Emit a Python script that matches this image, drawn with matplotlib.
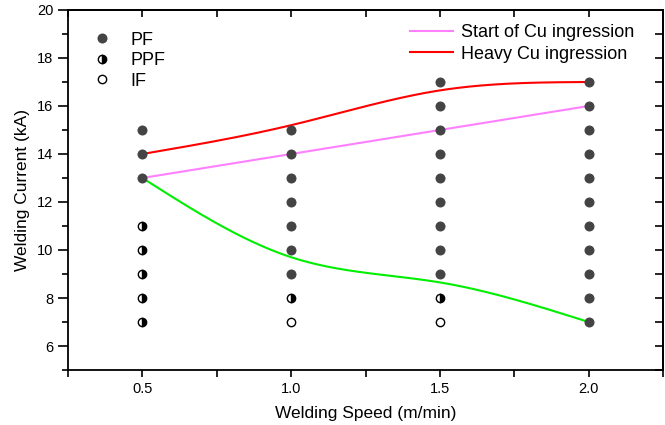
import numpy as np
import matplotlib
matplotlib.use("Agg")
import matplotlib.pyplot as plt
from matplotlib.ticker import MultipleLocator

plt.rcParams['font.family'] = ['Liberation Sans', 'DejaVu Sans']

# Weld outcome map: welding speed (m/min) vs welding current (kA)
pf_speed = [0.5, 0.5, 0.5,
            1.0, 1.0, 1.0, 1.0, 1.0, 1.0, 1.0,
            1.5, 1.5, 1.5, 1.5, 1.5, 1.5, 1.5, 1.5, 1.5,
            2.0, 2.0, 2.0, 2.0, 2.0, 2.0, 2.0, 2.0, 2.0, 2.0, 2.0]
pf_current = [15, 14, 13,
              15, 14, 13, 12, 11, 10, 9,
              17, 16, 15, 14, 13, 12, 11, 10, 9,
              17, 16, 15, 14, 13, 12, 11, 10, 9, 8, 7]
ppf_speed = [0.5, 0.5, 0.5, 0.5, 0.5, 1.0, 1.5]
ppf_current = [11, 10, 9, 8, 7, 8, 8]
if_speed = [1.0, 1.5]
if_current = [7, 7]

# Boundary curves
start_speed = [0.5, 1.0, 1.5, 2.0]
start_current = [13, 14, 15, 16]
heavy_speed = [0.5, 1.0, 1.5, 2.0]
heavy_current = [14, 15.2, 16.65, 17]
lower_speed = [0.5, 1.0, 1.5, 2.0]
lower_current = [13, 9.7, 8.65, 7]


def natural_spline(xs, ys, n=200):
    xs = np.asarray(xs, float)
    ys = np.asarray(ys, float)
    k = len(xs)
    h = np.diff(xs)
    A = np.zeros((k, k))
    b = np.zeros(k)
    A[0, 0] = A[-1, -1] = 1
    for i in range(1, k - 1):
        A[i, i - 1] = h[i - 1]
        A[i, i] = 2 * (h[i - 1] + h[i])
        A[i, i + 1] = h[i]
        b[i] = 6 * ((ys[i + 1] - ys[i]) / h[i] - (ys[i] - ys[i - 1]) / h[i - 1])
    M = np.linalg.solve(A, b)
    xf = np.linspace(xs[0], xs[-1], n)
    yf = np.empty_like(xf)
    for j, x in enumerate(xf):
        i = min(np.searchsorted(xs, x, side='right') - 1, k - 2)
        t1 = xs[i + 1] - x
        t0 = x - xs[i]
        yf[j] = (M[i] * t1 ** 3 / (6 * h[i]) + M[i + 1] * t0 ** 3 / (6 * h[i])
                 + (ys[i] / h[i] - M[i] * h[i] / 6) * t1
                 + (ys[i + 1] / h[i] - M[i + 1] * h[i] / 6) * t0)
    return xf, yf


fig = plt.figure(figsize=(6.65, 4.25), dpi=100)
ax = fig.add_axes([0.1023, 0.1294, 0.8947, 0.8471])

hx, hy = natural_spline(heavy_speed, heavy_current)
lx, ly = natural_spline(lower_speed, lower_current)
start_line, = ax.plot(start_speed, start_current, color='#ff80ff', lw=1.5, zorder=2)
heavy_line, = ax.plot(hx, hy, color='#ff0000', lw=1.5, zorder=2)
ax.plot(lx, ly, color='#00ee00', lw=1.5, zorder=2)

pf, = ax.plot(pf_speed, pf_current, 'o', ls='none', color='#444444',
              markersize=7.2, markeredgewidth=0, zorder=3)
ppf, = ax.plot(ppf_speed, ppf_current, 'o', ls='none', fillstyle='right',
               markerfacecolor='black', markerfacecoloralt='white',
               markeredgecolor='black', markersize=6, markeredgewidth=1.0, zorder=3)
iff, = ax.plot(if_speed, if_current, 'o', ls='none', markerfacecolor='white',
               markeredgecolor='black', markersize=6, markeredgewidth=1.0, zorder=3)

ax.set_xlim(0.25, 2.25)
ax.set_ylim(5, 20)
ax.xaxis.set_minor_locator(MultipleLocator(0.25))
ax.yaxis.set_minor_locator(MultipleLocator(1))
ax.set_xticks([0.5, 1.0, 1.5, 2.0])
ax.set_xticklabels(['0.5', '1.0', '1.5', '2.0'])
ax.set_yticks([6, 8, 10, 12, 14, 16, 18, 20])

ax.tick_params(which='both', direction='out', labelsize=10.5, width=1.2,
               top=False, right=False)
ax.tick_params(axis='y', which='major', length=7)
ax.tick_params(axis='y', which='minor', length=4.5)
ax.tick_params(axis='x', which='both', length=5)

# inward ticks on the top and right edges
ax_top = ax.secondary_xaxis('top')
ax_top.xaxis.set_major_locator(MultipleLocator(0.5))
ax_top.xaxis.set_minor_locator(MultipleLocator(0.25))
ax_top.tick_params(which='both', direction='in', labeltop=False, width=1.2, length=5)
ax_right = ax.secondary_yaxis('right')
ax_right.yaxis.set_major_locator(MultipleLocator(2))
ax_right.yaxis.set_minor_locator(MultipleLocator(1))
ax_right.tick_params(which='both', direction='in', labelright=False, width=1.2, length=6)

for sp in list(ax.spines.values()) + [ax_top.spines['top'], ax_right.spines['right']]:
    sp.set_linewidth(1.3)

ax.set_xlabel('Welding Speed (m/min)', fontsize=12.5, labelpad=7)
ax.set_ylabel('Welding Current (kA)', fontsize=12.5, labelpad=5)

leg1 = ax.legend([pf, ppf, iff], ['PF', 'PPF', 'IF'], loc='upper left',
                 bbox_to_anchor=(0.042, 0.94), frameon=False, fontsize=13,
                 borderpad=0, borderaxespad=0,
                 handlelength=1.0, handletextpad=1.05, labelspacing=0.2)
ax.add_artist(leg1)
ax.legend([start_line, heavy_line], ['Start of Cu ingression', 'Heavy Cu ingression'],
          loc='upper left', bbox_to_anchor=(0.575, 0.961), frameon=False, fontsize=13,
          borderpad=0, borderaxespad=0,
          handlelength=2.4, handletextpad=0.4, labelspacing=0.25)

fig.savefig('out.png', dpi=100)
